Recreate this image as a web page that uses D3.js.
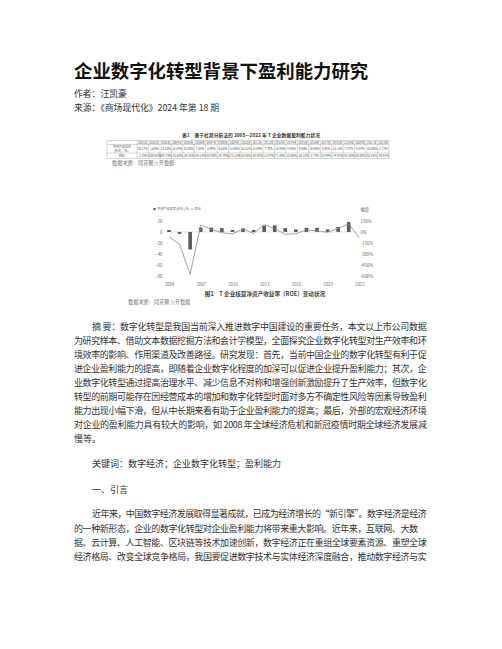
<!DOCTYPE html>
<html>
<head>
<meta charset="utf-8">
<script src="https://cdn.jsdelivr.net/npm/d3@7"></script>
<style>
  html, body { margin: 0; padding: 0; background: #fff; }
  svg { display: block; }
</style>
</head>
<body>
<div class="page"></div>
<script>
// chart data
const years = d3.range(2004, 2023);
const roe = [3.5, -3.5, -32, 8, 8, 7, 3.5, 6.5, 3.5, 11.5, 12, 7, 4.5, 7.5, 7.5, 4.5, 9, 18, null];
const yoy = [-65, -170, -580, 95, 35, -10, -28, 42, -20, 100, 45, -32, -25, 30, 15, -5, 50, 110, -80];
const leftTicks = [20, 0, -20, -40, -60, -80];
const rightTicks = [150, 0, -150, -300, -450, -600];

// table data (tiny, estimated)
const tableYears = d3.range(2001, 2023).map(d => d + '年');
const tableRoe = ['20.17%', '1.60%', '13.13%', '13.29%', '10.06%', '7.50%', '6.90%', '6.63%', '13.60%', '16.51%', '15.09%',
  '7.70%', '10.46%', '8.93%', '9.06%', '10.40%', '8.43%', '13.13%', '7.57%', '9.84%', '18.06%', '2.71%'];
const tableYoy = ['-1.73%', '-300.65%', '334.73%', '-25.62%', '-24.35%', '-43.15%', '58.90%', '-29.79%', '173.12%', '16.86%', '-42.90%',
  '-13.97%', '71.46%', '10.60%', '-26.12%', '5.77%', '53.44%', '-14.91%', '-42.33%', '30.00%', '83.54%', '-84.91%'];

const abstractLines = [
  '摘 要：数字化转型是我国当前深入推进数字中国建设的重要任务，本文以上市公司数据',
  '为研究样本、借助文本数据挖掘方法和会计学模型，全面探究企业数字化转型对生产效率和环',
  '境效率的影响、作用渠道及改善路径。研究发现：首先，当前中国企业的数字化转型有利于促',
  '进企业盈利能力的提高，即随着企业数字化程度的加深可以促进企业提升盈利能力；其次，企',
  '业数字化转型通过提高治理水平、减少信息不对称和增强创新激励提升了生产效率，但数字化',
  '转型的前期可能存在因经营成本的增加和数字化转型时面对多方不确定性风险等因素导致盈利',
  '能力出现小幅下滑，但从中长期来看有助于企业盈利能力的提高；最后，外部的宏观经济环境',
  '对企业的盈利能力具有较大的影响，如 2008 年全球经济危机和新冠疫情时期全球经济发展减',
  '慢等。'
];
const introLines = [
  '近年来，中国数字经济发展取得显著成就，已成为经济增长的“新引擎”。数字经济是经济',
  '的一种新形态，企业的数字化转型对企业盈利能力将带来重大影响。近年来，互联网、大数',
  '据、云计算、人工智能、区块链等技术加速创新，数字经济正在重组全球要素资源、重塑全球',
  '经济格局、改变全球竞争格局，我国要促进数字技术与实体经济深度融合，推动数字经济与实'
];

const W = 502, H = 649;
const font = '"Noto Sans CJK SC", "Noto Sans", sans-serif';
const kai = '"Noto Serif CJK SC", "Noto Sans CJK SC", serif';

const svg = d3.select('.page').append('svg')
  .attr('width', W).attr('height', H)
  .style('font-family', font);

svg.append('rect').attr('width', W).attr('height', H).attr('fill', '#fff');

// header
svg.append('text').attr('x', 74).attr('y', 77.6)
  .attr('font-size', 18.4).attr('font-weight', 700).attr('fill', '#111')
  .text('企业数字化转型背景下盈利能力研究');
svg.append('text').attr('x', 74).attr('y', 96.6)
  .attr('font-size', 8.8).attr('fill', '#333').text('作者：汪凯豪');
svg.append('text').attr('x', 74).attr('y', 110.6)
  .attr('font-size', 8.8).attr('fill', '#333').text('来源：《商场现代化》2024 年第 18 期');

// table 1
const tbl = { x0: 107, labelW: 30, x1: 389, top: 140.5, rows: [4, 8.5, 5.5] };
const colW = (tbl.x1 - tbl.x0 - tbl.labelW) / tableYears.length;
const rowY = [tbl.top];
tbl.rows.forEach(h => rowY.push(rowY[rowY.length - 1] + h));

svg.append('text').attr('x', 251).attr('y', 137.4).attr('text-anchor', 'middle')
  .attr('font-size', 4.8).attr('font-weight', 700).attr('fill', '#333')
  .text('表1　基于杜邦分析法的 2005—2022 年 T 企业数据盈利能力状况');

const table = svg.append('g').attr('fill', '#555').attr('font-size', 3);
// grid lines
rowY.forEach(y => {
  table.append('line').attr('x1', tbl.x0).attr('x2', tbl.x1).attr('y1', y).attr('y2', y)
    .attr('stroke', '#999').attr('stroke-width', 0.4);
});
d3.range(tableYears.length + 2).forEach(i => {
  const x = i === 0 ? tbl.x0 : tbl.x0 + tbl.labelW + (i - 1) * colW;
  table.append('line').attr('x1', x).attr('x2', x).attr('y1', rowY[0]).attr('y2', rowY[3])
    .attr('stroke', '#999').attr('stroke-width', 0.4);
});
const cellX = i => tbl.x0 + tbl.labelW + (i + 0.5) * colW;
table.selectAll('.hd').data(tableYears).join('text')
  .attr('x', (d, i) => cellX(i)).attr('y', rowY[0] + 3).attr('text-anchor', 'middle')
  .text(d => d);
table.selectAll('.roe').data(tableRoe).join('text')
  .attr('x', (d, i) => cellX(i)).attr('y', (rowY[1] + rowY[2]) / 2 + 1.1).attr('text-anchor', 'middle')
  .text(d => d);
table.selectAll('.yoy').data(tableYoy).join('text')
  .attr('x', (d, i) => cellX(i)).attr('y', (rowY[2] + rowY[3]) / 2 + 1.1).attr('text-anchor', 'middle')
  .text(d => d);
table.append('text').attr('x', tbl.x0 + tbl.labelW / 2).attr('y', rowY[1] + 3.6).attr('text-anchor', 'middle')
  .text('净资产收益率');
table.append('text').attr('x', tbl.x0 + tbl.labelW / 2).attr('y', rowY[1] + 7.2).attr('text-anchor', 'middle')
  .text('(ROE)（%）');
table.append('text').attr('x', tbl.x0 + tbl.labelW / 2).attr('y', (rowY[2] + rowY[3]) / 2 + 1.1)
  .attr('text-anchor', 'middle').text('同比');

svg.append('text').attr('x', 112).attr('y', 165)
  .attr('font-size', 5.2).attr('fill', '#555').style('font-family', kai)
  .text('数据来源：同花顺公开数据');

// figure 1
const x = d3.scalePoint().domain(years).range([169, 359.3]);
const yL = d3.scaleLinear().domain([-80, 20]).range([275.7, 221]);
const yR = d3.scaleLinear().domain([-600, 150]).range([275.7, 221]);

const fig = svg.append('g').attr('font-size', 4.3).attr('fill', '#666');

// zero line
fig.append('line')
  .attr('x1', 164).attr('x2', 358)
  .attr('y1', yL(0)).attr('y2', yL(0))
  .attr('stroke', '#aaa').attr('stroke-width', 0.5).attr('stroke-dasharray', '1.5,1');

const axL = fig.append('g').attr('transform', 'translate(164,0)')
  .call(d3.axisLeft(yL).tickValues(leftTicks).tickSize(0).tickPadding(1.5));
const axR = fig.append('g').attr('transform', 'translate(358.5,0)')
  .call(d3.axisRight(yR).tickValues(rightTicks).tickSize(0).tickPadding(2).tickFormat(d => d + '%'));
const axX = fig.append('g').attr('transform', 'translate(0,280.5)')
  .call(d3.axisBottom(x).tickValues(years.filter(d => (d - 2004) % 3 === 0)).tickSize(0).tickPadding(2));
[axL, axR, axX].forEach(g => {
  g.select('.domain').remove();
  g.selectAll('text').attr('font-size', 4.3).attr('fill', '#666').style('font-family', font);
});

// bars
fig.selectAll('.bar').data(years.map((d, i) => ({ year: d, v: roe[i] })).filter(d => d.v !== null))
  .join('rect')
  .attr('x', d => x(d.year) - 1.8)
  .attr('width', 3.6)
  .attr('y', d => yL(Math.max(0, d.v)))
  .attr('height', d => Math.abs(yL(d.v) - yL(0)))
  .attr('fill', '#5a5a5a');

// yoy line
const line = d3.line().x((d, i) => x(years[i])).y(d => yR(d));
fig.append('path').datum(yoy)
  .attr('d', line)
  .attr('fill', 'none').attr('stroke', '#8a8a8a').attr('stroke-width', 0.8);

// legend
fig.append('rect').attr('x', 153.5).attr('y', 208).attr('width', 2.2).attr('height', 2.2).attr('fill', '#5a5a5a');
fig.append('text').attr('x', 157).attr('y', 210.4).attr('font-size', 3.2)
  .text('净资产收益率(ROE)(%)');
fig.append('line').attr('x1', 190.5).attr('x2', 193.5).attr('y1', 209.1).attr('y2', 209.1)
  .attr('stroke', '#8a8a8a').attr('stroke-width', 0.8);
fig.append('text').attr('x', 194.5).attr('y', 210.4).attr('font-size', 3.2).text('同比');
fig.append('text').attr('x', 360.5).attr('y', 210.5).text('幅度');

svg.append('text').attr('x', 265).attr('y', 295.5).attr('text-anchor', 'middle')
  .attr('font-size', 5.6).attr('font-weight', 700).attr('fill', '#444')
  .text('图1　T 企业核算净资产收益率（ROE）变动状况');
svg.append('text').attr('x', 128).attr('y', 303.8)
  .attr('font-size', 5.2).attr('fill', '#555').style('font-family', kai)
  .text('数据来源：同花顺公开数据');

// body text
const body = svg.append('g').attr('font-size', 9).attr('fill', '#333');
const lineGap = 13.95;
body.selectAll('.abs').data(abstractLines).join('text')
  .attr('x', (d, i) => i === 0 ? 92 : 74)
  .attr('y', (d, i) => 330.1 + i * lineGap)
  .each(function(d, i) {
    if (i < abstractLines.length - 1) {
      d3.select(this).attr('textLength', i === 0 ? 334.7 : 352.7).attr('lengthAdjust', 'spacing');
    }
  })
  .text(d => d);

body.append('text').attr('x', 92).attr('y', 466.7).text('关键词：数字经济；企业数字化转型；盈利能力');
body.append('text').attr('x', 92).attr('y', 492.7).text('一、引言');

body.selectAll('.intro').data(introLines).join('text')
  .attr('x', (d, i) => i === 0 ? 92 : 74)
  .attr('y', (d, i) => 517.4 + i * 14.2)
  .attr('textLength', (d, i) => i === 0 ? 334.7 : (i === 1 ? 344 : 352.7))
  .attr('lengthAdjust', 'spacing')
  .text(d => d);
</script>
</body>
</html>
